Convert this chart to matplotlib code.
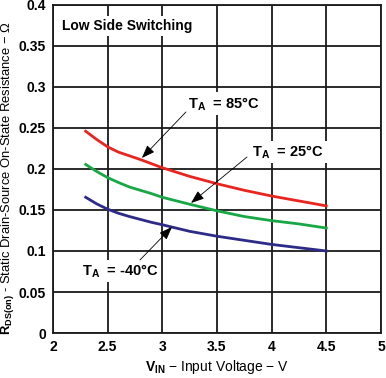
import matplotlib
matplotlib.use("Agg")
import matplotlib.pyplot as plt

plt.rcParams['font.family'] = ['Liberation Sans', 'DejaVu Sans']
plt.rcParams['font.weight'] = 'bold'
plt.rcParams['mathtext.fontset'] = 'custom'
plt.rcParams['mathtext.rm'] = 'Liberation Sans:bold'
plt.rcParams['mathtext.bf'] = 'Liberation Sans:bold'
plt.rcParams['mathtext.it'] = 'Liberation Sans:bold'

# input voltage (V)
vin = [2.3, 2.4, 2.5, 2.6, 2.7, 2.8, 2.9, 3.0, 3.25, 3.5, 3.75, 4.0, 4.25, 4.5]
# on-state resistance (ohm)
r_85 = [0.246, 0.236, 0.227, 0.2205, 0.216, 0.2115, 0.2065, 0.2015, 0.191, 0.182, 0.174, 0.167, 0.161, 0.155]
r_25 = [0.2055, 0.197, 0.1895, 0.1835, 0.178, 0.174, 0.170, 0.1655, 0.157, 0.149, 0.142, 0.137, 0.133, 0.128]
r_m40 = [0.1655, 0.1575, 0.151, 0.146, 0.142, 0.1385, 0.135, 0.132, 0.124, 0.118, 0.113, 0.108, 0.104, 0.100]

xticks = [2, 2.5, 3, 3.5, 4, 4.5, 5]
yticks = [0, 0.05, 0.1, 0.15, 0.2, 0.25, 0.3, 0.35, 0.4]

fig = plt.figure(figsize=(3.86, 3.78), dpi=100)
ax = fig.add_axes([0.137, 0.119, 0.85, 0.868])

ax.plot(vin, r_85, color='#e8251f', lw=2, zorder=3)
ax.plot(vin, r_25, color='#17a845', lw=2, zorder=3)
ax.plot(vin, r_m40, color='#2d2a88', lw=2, zorder=3)

ax.set_xlim(2, 5)
ax.set_ylim(0, 0.4)
ax.set_xticks(xticks)
ax.set_yticks(yticks)
ax.set_xticklabels(['%g' % v for v in xticks])
ax.set_yticklabels(['%g' % v for v in yticks])
ax.tick_params(length=0, labelsize=10, pad=5)
ax.grid(True, color='#1a1a1a', lw=1.3, zorder=1)
for s in ax.spines.values():
    s.set_color('#1a1a1a')
    s.set_linewidth(1.3)

box = dict(facecolor='white', edgecolor='none', pad=2)
ax.text(2.082, 0.3744, 'Low Side Switching', fontsize=10, va='center', bbox=box, zorder=4)

arrow = dict(arrowstyle='-|>,head_length=0.8,head_width=0.3', color='black', lw=0.6,
             shrinkA=0, shrinkB=0)
ax.annotate('', xy=(2.814, 0.2134), xytext=(3.217, 0.2695), arrowprops=arrow, zorder=5)
ax.annotate('', xy=(3.263, 0.1585), xytext=(3.775, 0.2146), arrowprops=arrow, zorder=5)
ax.annotate('', xy=(3.089, 0.1293), xytext=(2.796, 0.089), arrowprops=arrow, zorder=5)

ax.text(3.235, 0.2793, r'$\mathrm{T_A}$  = 85°C', fontsize=10.5, va='center', bbox=box, zorder=4)
ax.text(3.821, 0.2207, r'$\mathrm{T_A}$  = 25°C', fontsize=10.5, va='center', bbox=box, zorder=4)
ax.text(2.265, 0.0756, r'$\mathrm{T_A}$  = -40°C', fontsize=10.5, va='center', bbox=box, zorder=4)

ax.set_xlabel(r'$\mathrm{V_{IN}}$ − Input Voltage − V', fontsize=10, labelpad=3)
ax.set_ylabel(r'$\mathrm{R_{DS(on)}}$ - Static Drain-Source On-State Resistance − Ω',
              fontsize=9.4)
ax.yaxis.set_label_coords(-0.112, 0.473)

fig.savefig('out.png', dpi=100)
